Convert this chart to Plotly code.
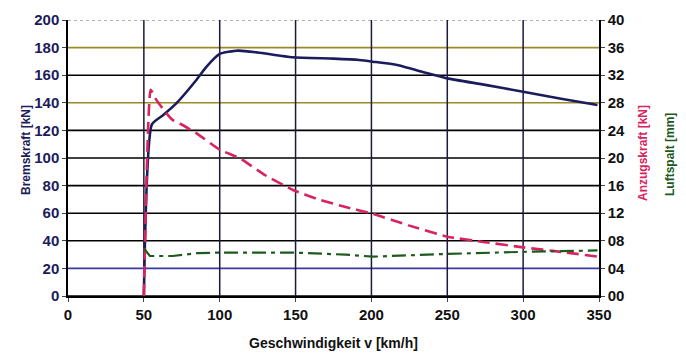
import plotly.graph_objects as go

# Bremskraft [kN] (left axis)
v_brems = [50, 55.3, 62.6, 71.4, 84.6, 91.2, 100, 112, 125, 148, 175, 192, 201, 217, 235, 250, 275, 300, 325, 349]
bremskraft = [0, 124.4, 131, 139.6, 156.5, 166, 175.4, 177.8, 176.5, 173, 172, 171, 169.8, 167.4, 162, 157.7, 153, 148, 143, 138.4]

# Anzugskraft [kN] (right axis, 0-40)
v_anzug = [50, 54.5, 58, 64.8, 69, 73.6, 84.6, 100, 113, 130, 148, 165, 183, 201, 225, 250, 275, 300, 325, 349]
anzugskraft = [0, 29.9, 28.5, 26.5, 25.5, 25.0, 23.6, 21.2, 20.0, 17.5, 15.4, 14.0, 12.9, 11.9, 10.2, 8.6, 7.8, 7.05, 6.4, 5.7]

# Luftspalt [mm]
v_luft = [50, 54, 60, 69, 85, 100, 148, 183, 201, 225, 250, 300, 349]
luftspalt = [0.69, 0.58, 0.58, 0.58, 0.62, 0.63, 0.63, 0.6, 0.57, 0.59, 0.61, 0.64, 0.66]

x_ticks = [0, 50, 100, 150, 200, 250, 300, 350]
y_ticks = [0, 20, 40, 60, 80, 100, 120, 140, 160, 180, 200]
y2_ticks = [0, 4, 8, 12, 16, 20, 24, 28, 32, 36, 40]
y2_labels = ["00", "04", "08", "12", "16", "20", "24", "28", "32", "36", "40"]
grid_colors = ["#000000", "#3a3aa0", "#000000", "#000000", "#000000", "#000000",
               "#000000", "#9a8a26", "#000000", "#9a8a26", "#999999"]

FONT = "Liberation Sans"
NAVY = "#1c1c5c"
RED = "#d8245e"
GREEN = "#1e5a1e"

# page body has an 8px offset; compensate
OFF = 8
W, H = 686, 356
L, T = 68 - OFF, 20 - OFF
PW, PH = 531, 276
R = W - L - PW
B = H - T - PH

fig = go.Figure()
fig.add_trace(go.Scatter(x=v_brems, y=bremskraft, mode="lines", line=dict(color=NAVY, width=2.6, shape="spline", smoothing=0.5), yaxis="y", showlegend=False))
fig.add_trace(go.Scatter(x=v_anzug, y=anzugskraft, mode="lines", line=dict(color=RED, width=2.6, dash="12px,6px", shape="spline", smoothing=0.4), yaxis="y2", showlegend=False))
fig.add_trace(go.Scatter(x=v_luft, y=luftspalt, mode="lines", line=dict(color=GREEN, width=2.2, dash="14px,5px,4px,5px"), yaxis="y3", showlegend=False))

shapes = []
for val, col in zip(y_ticks, grid_colors):
    shapes.append(dict(type="line", xref="paper", x0=0, x1=1, yref="y", y0=val, y1=val,
                       line=dict(color=col, width=1.6, dash="dot" if val == 200 else "solid"), layer="below"))
for xv in x_ticks[1:-1]:
    shapes.append(dict(type="line", xref="x", x0=xv, x1=xv, yref="paper", y0=0, y1=1,
                       line=dict(color="#1a1a3a", width=1.5), layer="below"))

def px2paper(px, py):
    # px, py are screen coordinates
    return (px - OFF - L) / PW, (T + PH - (py - OFF)) / PH

ax_a, ay_a = px2paper(652, 153)
ax_l, ay_l = px2paper(679, 155)
ax_b, ay_b = px2paper(17, 150)

fig.update_layout(
    width=W, height=H,
    margin=dict(l=L, r=R, t=T, b=B, autoexpand=False),
    paper_bgcolor="white", plot_bgcolor="white",
    font=dict(family=FONT, size=14, color="#111111"),
    shapes=shapes,
    xaxis=dict(range=[0, 350], tickvals=x_ticks, ticktext=[f"<b>{t}</b>" for t in x_ticks],
               showgrid=False, zeroline=False, automargin=False,
               showline=True, linecolor="#000", linewidth=1.5, ticks="outside", ticklen=4,
               tickfont=dict(family=FONT, size=15, color="#111111"),
               title=dict(text="<b>Geschwindigkeit v [km/h]</b>", font=dict(size=14), standoff=16)),
    yaxis=dict(range=[0, 200], tickvals=y_ticks, ticktext=[f"<b>{t}</b>" for t in y_ticks],
               showgrid=False, zeroline=False, automargin=False,
               showline=True, linecolor="#000", linewidth=1.5, ticks="outside", ticklen=4,
               tickfont=dict(family=FONT, size=15, color=NAVY)),
    yaxis2=dict(range=[0, 40], tickvals=y2_ticks, ticktext=[f"<b>{t}</b>" for t in y2_labels],
                overlaying="y", side="right", automargin=False,
                showgrid=False, zeroline=False, showline=True, linecolor="#000", linewidth=1.5,
                ticks="outside", ticklen=4, tickfont=dict(family=FONT, size=15, color="#111111")),
    yaxis3=dict(range=[0, 4], overlaying="y", side="right", visible=False),
    annotations=[
        dict(text="<b>Bremskraft [kN]</b>", x=ax_b, y=ay_b, xref="paper", yref="paper", showarrow=False,
             textangle=-90, font=dict(size=12, color=NAVY)),
        dict(text="<b>Anzugskraft [kN]</b>", x=ax_a, y=ay_a, xref="paper", yref="paper", showarrow=False,
             textangle=-90, font=dict(size=12, color=RED)),
        dict(text="<b>Luftspalt [mm]</b>", x=ax_l, y=ay_l, xref="paper", yref="paper", showarrow=False,
             textangle=-90, font=dict(size=12, color=GREEN)),
    ],
)

fig.write_html("out.html")
